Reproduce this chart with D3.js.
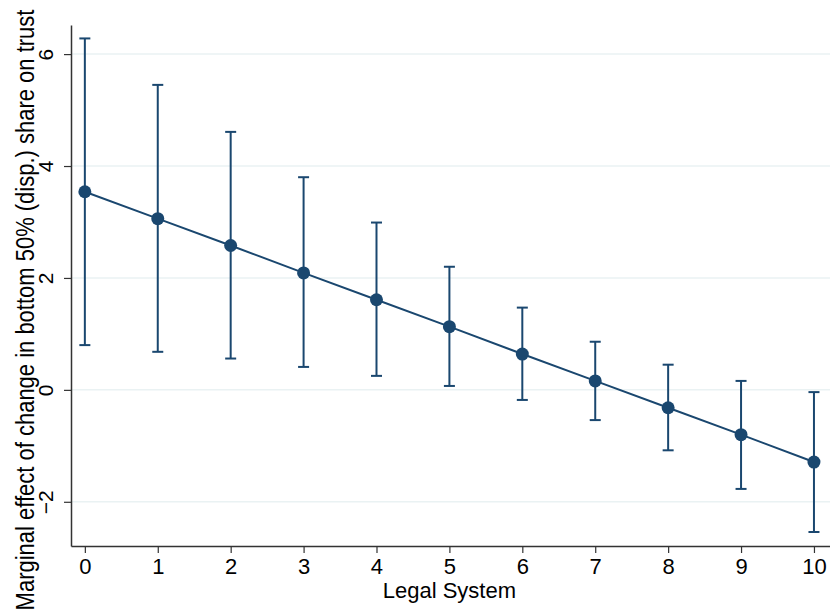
<!DOCTYPE html>
<html>
<head>
<meta charset="utf-8">
<script src="https://cdn.jsdelivr.net/npm/d3@7"></script>
<style>
    body { margin: 0; background: #fff; }
    svg { font-family: "Liberation Sans", Arial, sans-serif; }
</style>
</head>
<body>
<div id="chart"></div>
<script>
// Legal System levels and estimated marginal effects with 95% CI
const legal = [0, 1, 2, 3, 4, 5, 6, 7, 8, 9, 10];
const effect = [3.54, 3.06, 2.58, 2.09, 1.61, 1.13, 0.64, 0.16, -0.32, -0.80, -1.29];
const upper = [6.28, 5.45, 4.61, 3.80, 2.99, 2.20, 1.47, 0.86, 0.45, 0.16, -0.04];
const lower = [0.80, 0.68, 0.56, 0.41, 0.25, 0.07, -0.18, -0.54, -1.08, -1.77, -2.54];
const yTicks = [-2, 0, 2, 4, 6];

const svgWidth = 830;
const svgHeight = 612;
const margin = { top: 25, left: 71, right: 0, bottom: 66 };
const width = svgWidth - margin.left - margin.right;
const height = svgHeight - margin.top - margin.bottom;
const navy = '#1a476f';

const data = legal.map((d, i) => ({ x: d, y: effect[i], lo: lower[i], hi: upper[i] }));

const svg = d3.select('#chart').append('svg')
    .attr('width', svgWidth)
    .attr('height', svgHeight);

const x = d3.scaleLinear().domain([-0.19, 10.22]).range([0, width]);
const y = d3.scaleLinear().domain([-2.79, 6.52]).range([height, 0]);

const g = svg.append('g')
    .attr('transform', `translate(${margin.left},${margin.top})`);

// gridlines
g.selectAll('line.grid')
    .data(yTicks)
    .enter()
    .append('line')
    .attr('class', 'grid')
    .attr('x1', 0)
    .attr('x2', width)
    .attr('y1', d => y(d))
    .attr('y2', d => y(d))
    .attr('stroke', '#eaf2f3')
    .attr('stroke-width', 1.5);

// axes
const xAxis = g.append('g')
    .attr('transform', `translate(0,${height})`)
    .call(d3.axisBottom(x).tickValues(legal).tickSize(7).tickSizeOuter(0));

const yAxis = g.append('g')
    .call(d3.axisLeft(y).tickValues(yTicks).tickSize(7).tickSizeOuter(0)
        .tickFormat(d => d < 0 ? '\u2212' + Math.abs(d) : d));

[xAxis, yAxis].forEach(a => {
    a.select('.domain').attr('stroke', '#333').attr('stroke-width', 1.5);
    a.selectAll('.tick line').attr('stroke', '#333').attr('stroke-width', 1.2);
    a.selectAll('text').attr('fill', '#000')
        .style('font-family', '"Liberation Sans", Arial, sans-serif');
});

xAxis.selectAll('.tick text')
    .style('font-size', '22px')
    .attr('y', 28)
    .attr('dy', 0);

yAxis.selectAll('.tick text')
    .style('font-size', '21px')
    .attr('x', 0)
    .attr('dy', 0)
    .attr('transform', 'translate(-18,0) rotate(-90)')
    .style('text-anchor', 'middle');

// error bars
const cap = 5.5;
const bars = g.selectAll('g.err')
    .data(data)
    .enter()
    .append('g')
    .attr('class', 'err')
    .attr('stroke', navy)
    .attr('stroke-width', 2);

bars.append('line')
    .attr('x1', d => x(d.x)).attr('x2', d => x(d.x))
    .attr('y1', d => y(d.hi)).attr('y2', d => y(d.lo));
bars.append('line')
    .attr('x1', d => x(d.x) - cap).attr('x2', d => x(d.x) + cap)
    .attr('y1', d => y(d.hi)).attr('y2', d => y(d.hi));
bars.append('line')
    .attr('x1', d => x(d.x) - cap).attr('x2', d => x(d.x) + cap)
    .attr('y1', d => y(d.lo)).attr('y2', d => y(d.lo));

// line + markers
g.append('path')
    .datum(data)
    .attr('fill', 'none')
    .attr('stroke', navy)
    .attr('stroke-width', 2)
    .attr('d', d3.line().x(d => x(d.x)).y(d => y(d.y)));

g.selectAll('circle')
    .data(data)
    .enter()
    .append('circle')
    .attr('cx', d => x(d.x))
    .attr('cy', d => y(d.y))
    .attr('r', 6.5)
    .attr('fill', navy);

// titles
svg.append('text')
    .attr('x', margin.left + x(5))
    .attr('y', 598)
    .style('text-anchor', 'middle')
    .style('font-size', '22px')
    .text('Legal System');

svg.append('text')
    .attr('transform', `translate(34,310) rotate(-90) scale(1,1.2)`)
    .style('text-anchor', 'middle')
    .style('font-size', '22px')
    .text('Marginal effect of change in bottom 50% (disp.) share on trust');
</script>
</body>
</html>
